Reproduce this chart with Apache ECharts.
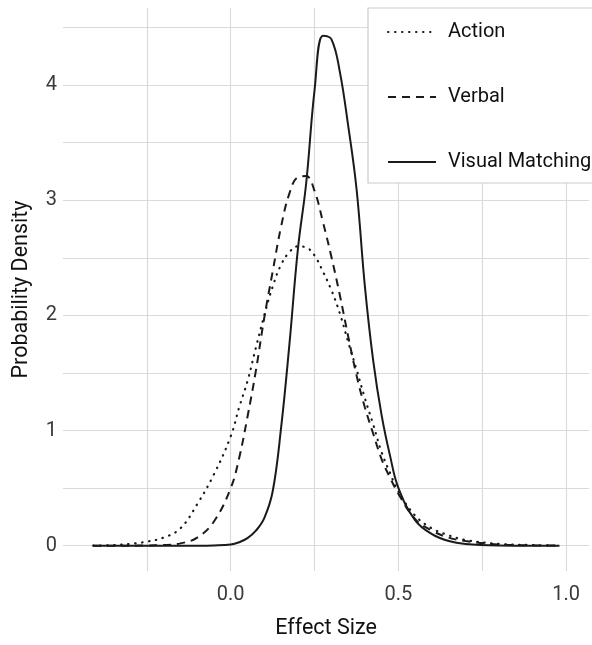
<!DOCTYPE html>
<html>
<head>
<meta charset="utf-8">
<script src="https://cdn.jsdelivr.net/npm/echarts@6/dist/echarts.min.js"></script>
<style>
  html, body { margin: 0; padding: 0; background: #fff; }
  #main { width: 592px; height: 645px; }
</style>
</head>
<body>
<div id="main"></div>
<script>
// effect size grid (shared by the three curves)
var effectSize = [-0.41, -0.35, -0.3, -0.25, -0.2, -0.15, -0.1, -0.05, 0, 0.025, 0.05, 0.075,
  0.1, 0.125, 0.15, 0.175, 0.2, 0.225, 0.25, 0.275, 0.3, 0.325, 0.35, 0.375,
  0.4, 0.425, 0.45, 0.475, 0.5, 0.55, 0.6, 0.65, 0.7, 0.8, 0.9, 0.98];

var actionDensity = [0, 0.005, 0.015, 0.035, 0.07, 0.15, 0.36, 0.62, 0.95, 1.2, 1.43, 1.72,
  2.0, 2.25, 2.44, 2.55, 2.6, 2.59, 2.52, 2.38, 2.22, 2.02, 1.77, 1.53,
  1.28, 1.05, 0.81, 0.63, 0.47, 0.26, 0.15, 0.09, 0.05, 0.015, 0.005, 0];

var verbalDensity = [0, 0, 0, 0.002, 0.005, 0.02, 0.07, 0.21, 0.5, 0.76, 1.12, 1.52,
  1.98, 2.38, 2.77, 3.06, 3.2, 3.21, 3.08, 2.81, 2.51, 2.18, 1.82, 1.48,
  1.2, 0.97, 0.75, 0.59, 0.45, 0.23, 0.13, 0.07, 0.04, 0.01, 0.003, 0];

var visualDensity = [0, 0, 0, 0, 0, 0, 0, 0.002, 0.01, 0.03, 0.065, 0.13,
  0.24, 0.47, 1.02, 1.75, 2.57, 3.15, 3.96, 4.43, 4.4, 4.12, 3.65, 3.1,
  2.25, 1.6, 1.13, 0.78, 0.5, 0.22, 0.1, 0.04, 0.015, 0.002, 0, 0];

var seriesNames = ['Action', 'Verbal', 'Visual Matching'];
var xTickLabels = ['0.0', '0.5', '1.0'];

var font = "Roboto, sans-serif";

function pairs(ys) {
  var out = [];
  for (var i = 0; i < effectSize.length; i++) {
    out.push([effectSize[i], ys[i]]);
  }
  return out;
}

var chart = echarts.init(document.getElementById('main'));

chart.setOption({
  animation: false,
  backgroundColor: '#fff',
  grid: { left: 63, right: 2, top: 8, bottom: 72 },
  xAxis: {
    type: 'value',
    min: -0.5,
    max: 1.068,
    interval: 0.25,
    name: 'Effect Size',
    nameLocation: 'middle',
    nameGap: 47,
    nameTextStyle: { fontFamily: font, fontSize: 21.5, color: '#111' },
    axisLine: { show: false },
    axisTick: { show: false },
    axisLabel: {
      margin: 14,
      fontFamily: font,
      fontSize: 20,
      color: '#3a3a3a',
      formatter: function (v) {
        var k = Math.round(v * 2);
        if (Math.abs(v * 2 - k) > 1e-6 || k < 0) return '';
        return xTickLabels[k] || '';
      }
    },
    splitLine: {
      show: true, showMinLine: false, showMaxLine: false,
      lineStyle: { color: '#dadada', width: 1.2 }
    }
  },
  yAxis: {
    type: 'value',
    min: -0.22,
    max: 4.67,
    splitNumber: 10,
    name: 'Probability Density',
    nameLocation: 'middle',
    nameGap: 30,
    nameTextStyle: { fontFamily: font, fontSize: 21.5, color: '#111' },
    axisLine: { show: false },
    axisTick: { show: false },
    axisLabel: {
      margin: 6,
      fontFamily: font,
      fontSize: 20,
      color: '#3a3a3a',
      formatter: function (v) {
        var r = Math.round(v);
        return Math.abs(v - r) < 1e-6 ? String(r) : '';
      }
    },
    splitLine: {
      show: true, showMinLine: false, showMaxLine: false,
      lineStyle: { color: '#dadada', width: 1.2 }
    }
  },
  graphic: [{
    type: 'rect',
    z: 3,
    shape: { x: 368, y: 8, width: 240, height: 175 },
    style: { fill: '#fff', stroke: '#cccccc', lineWidth: 1.2 }
  }],
  legend: {
    z: 4,
    orient: 'vertical',
    left: 382,
    top: 17,
    itemWidth: 48,
    itemHeight: 14,
    itemGap: 45,
    data: seriesNames,
    itemStyle: { opacity: 0 },
    textStyle: { fontFamily: font, fontSize: 20, color: '#111', padding: [0, 0, 0, 7] }
  },
  series: [
    {
      name: seriesNames[0],
      type: 'line',
      data: pairs(actionDensity),
      smooth: 0.4,
      symbol: 'none',
      lineStyle: { color: '#1a1a1a', width: 2.2, type: [0.5, 6.5], cap: 'round' },
      itemStyle: { color: '#1a1a1a' }
    },
    {
      name: seriesNames[1],
      type: 'line',
      data: pairs(verbalDensity),
      smooth: 0.4,
      symbol: 'none',
      lineStyle: { color: '#1a1a1a', width: 2, type: [8, 6] },
      itemStyle: { color: '#1a1a1a' }
    },
    {
      name: seriesNames[2],
      type: 'line',
      data: pairs(visualDensity),
      smooth: 0.4,
      symbol: 'none',
      lineStyle: { color: '#1a1a1a', width: 2 },
      itemStyle: { color: '#1a1a1a' }
    }
  ]
});
</script>
</body>
</html>
